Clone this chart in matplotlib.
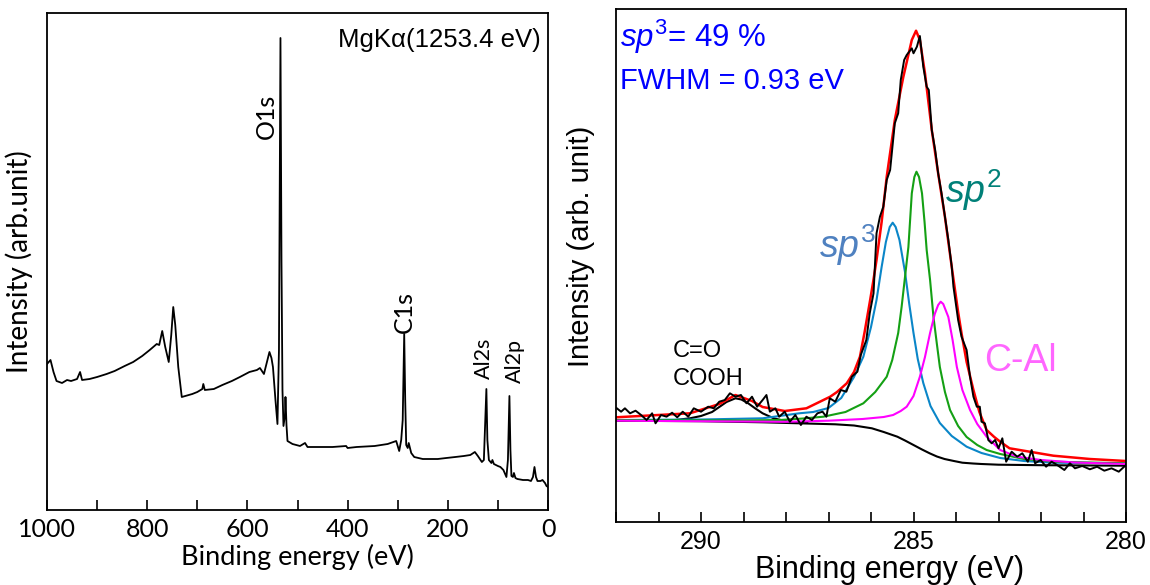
import numpy as np
import matplotlib
matplotlib.use('Agg')
import matplotlib.pyplot as plt

plt.rcParams['mathtext.fontset'] = 'custom'
plt.rcParams['mathtext.rm'] = 'Liberation Sans'
plt.rcParams['mathtext.it'] = 'Liberation Sans:italic'

# ---------------- survey spectrum (left) ----------------
survey_E = [1000, 993, 987, 981, 970, 960, 952, 940, 934, 930, 915, 900, 881, 865, 845,
            828, 810, 795, 781, 776, 770, 764, 757, 752, 748, 744, 738, 731, 724, 710,
            700, 690, 688, 685, 667, 650, 631, 615, 596, 581, 575, 567, 562, 556, 552,
            549, 544, 540, 537, 534, 532, 530, 528, 525, 524, 522, 520, 510, 495, 485,
            480, 453, 430, 403, 400, 382, 346, 320, 303, 297, 293, 290, 287, 285, 283,
            280, 278, 273, 267, 250, 239, 220, 203, 185, 168, 155, 146, 140, 132, 128,
            123, 121, 118, 113, 111, 108, 100, 95, 89, 83, 80, 77, 75, 73, 70,
            68, 65, 61, 50, 40, 34, 30, 27, 24, 21, 15, 11, 6, 3, 0]
survey_I = [146, 150, 138, 129, 127, 130, 129, 131, 138, 130, 131, 133, 136, 139, 144,
            148, 154, 160, 166, 165, 179, 163, 148, 175, 203, 185, 143, 113, 114, 116,
            118, 121, 126, 120, 121, 125, 129, 133, 138, 140, 142, 136, 146, 158, 152,
            143, 110, 86, 160, 472, 250, 120, 84, 95, 113, 85, 69, 66, 64, 67,
            63, 63, 63, 64, 62, 63, 64, 66, 69, 59, 70, 90, 176, 110, 65,
            62, 67, 57, 53, 51, 51, 51, 52, 53, 54, 55, 58, 54, 48, 50,
            121, 70, 50, 47, 50, 46, 44, 43, 40, 33, 50, 114, 60, 34, 33,
            37, 32, 31, 30, 30, 29, 33, 43, 33, 29, 29, 30, 27, 24, 23]

survey_ticks = [1000, 800, 600, 400, 200, 0]

# ---------------- C1s high resolution (right) ----------------
data_E = [291.98, 291.88, 291.79, 291.67, 291.54, 291.41, 291.28, 291.15, 291.07, 290.94,
          290.81, 290.68, 290.56, 290.43, 290.30, 290.17, 290.00, 289.83, 289.70, 289.57,
          289.44, 289.32, 289.19, 289.06, 288.93, 288.80, 288.68, 288.55, 288.46, 288.38,
          288.25, 288.16, 288.03, 287.91, 287.78, 287.65, 287.52, 287.39, 287.26, 287.14,
          287.05, 286.97, 286.84, 286.71, 286.58, 286.45, 286.32, 286.24, 286.11, 286.03,
          285.94, 285.87, 285.79, 285.71, 285.63, 285.55, 285.44, 285.36, 285.30, 285.22,
          285.16, 285.04, 285.00, 284.92, 284.85, 284.77, 284.69, 284.64, 284.57, 284.49,
          284.42, 284.34, 284.26, 284.18, 284.10, 284.06, 283.95, 283.87, 283.75, 283.67,
          283.59, 283.51, 283.44, 283.40, 283.32, 283.24, 283.16, 283.08, 283.00, 282.91,
          282.82, 282.69, 282.56, 282.44, 282.31, 282.22, 282.14, 282.01, 281.88, 281.75,
          281.62, 281.45, 281.32, 281.20, 281.03, 280.85, 280.68, 280.51, 280.34, 280.17,
          280.00]
data_I = [113.7, 110.3, 113.7, 108.7, 111.3, 107.0, 102.0, 108.7, 98.7, 107.0,
          105.3, 109.3, 104.7, 110.3, 105.3, 113.7, 110.3, 115.3, 113.7, 120.3,
          122.0, 128.7, 125.3, 127.0, 118.7, 125.3, 115.3, 122.0, 127.0, 110.3,
          113.7, 105.3, 110.3, 100.3, 107.0, 97.0, 105.3, 102.0, 108.7, 110.3,
          105.3, 123.7, 120.3, 132.0, 130.3, 145.3, 150.3, 167.0, 182.0, 208.7,
          228.7, 288.7, 305.3, 315.3, 342.0, 352.0, 398.7, 408.7, 442.0, 462.0,
          467.0, 473.7, 468.7, 475.3, 486.0, 455.3, 435.3, 432.0, 392.0, 372.0,
          348.7, 328.7, 305.3, 282.0, 255.3, 235.3, 202.0, 185.3, 172.0, 145.3,
          125.3, 115.3, 115.3, 100.3, 98.7, 82.0, 78.7, 82.0, 73.7, 83.7,
          60.3, 70.3, 65.3, 68.7, 60.3, 72.0, 58.7, 62.0, 55.3, 60.3,
          57.0, 52.0, 58.7, 53.7, 56.0, 52.7, 55.3, 51.3, 53.7, 50.3,
          57.0]

env_E = [292.0, 290.26, 289.57, 289.19, 288.80, 288.55, 288.03, 287.52, 287.36, 286.96,
         286.8, 286.57, 286.4, 286.26, 286.15, 286.02, 285.95, 285.87, 285.75, 285.63,
         285.44, 285.24, 285.04, 284.94, 284.85, 284.73, 284.57, 284.42, 284.26, 284.10,
         283.95, 283.87, 283.75, 283.59, 283.45, 283.28, 283.1, 282.96, 282.74, 281.71,
         280.85, 280.0]
env_I = [104.7, 108.7, 118.0, 127.0, 121.0, 115.0, 111.0, 113.7, 117.0, 125.3,
         130.0, 138.7, 150.0, 165.3, 190.0, 222.0, 240.0, 262.0, 300.0, 345.3,
         402.0, 445.0, 482.0, 491.3, 482.0, 448.7, 392.0, 348.7, 305.0, 255.0,
         210.0, 188.7, 160.0, 132.0, 110.0, 92.0, 85.0, 80.3, 73.7, 66.3,
         63.0, 61.0]

base_E = [292.0, 290.0, 288.55, 286.84, 286.4, 285.98, 285.7, 285.38, 285.2, 285.0,
          284.8, 284.62, 284.45, 284.27, 284.05, 283.85, 283.6, 283.4, 283.0, 282.0,
          280.0]
base_I = [101.3, 100.8, 99.7, 97.7, 96.5, 93.7, 90.0, 85.3, 81.5, 77.0,
          72.5, 68.7, 65.5, 63.0, 61.0, 59.3, 58.5, 58.0, 57.3, 56.8,
          56.3]

cooh_E = [292.0, 290.6, 290.26, 290.0, 289.74, 289.40, 289.19, 289.05, 288.89, 288.72,
          288.55, 288.29, 287.95, 287.5]
cooh_I = [101.3, 102.0, 103.7, 106.0, 110.0, 120.0, 123.7, 122.5, 118.7, 113.5,
          108.7, 103.7, 100.3, 99.2]

sp3_E = [292.0, 290.0, 288.55, 287.69, 287.36, 287.0, 286.7, 286.4, 286.18, 286.0,
         285.87, 285.75, 285.65, 285.56, 285.49, 285.42, 285.33, 285.2, 285.1, 285.0,
         284.9, 284.77, 284.6, 284.38, 284.1, 283.75, 283.4, 282.96, 282.4, 281.71,
         280.0]
sp3_I = [102.0, 102.5, 103.7, 108.7, 110.0, 114.0, 124.0, 145.0, 165.3, 195.0,
         222.0, 255.0, 280.0, 295.0, 299.3, 295.0, 282.0, 250.0, 218.0, 189.0,
         163.0, 139.0, 116.0, 99.0, 86.0, 75.3, 69.0, 64.0, 61.0, 59.3,
         58.7]

sp2_E = [292.0, 289.0, 288.14, 287.6, 287.12, 286.6, 286.18, 285.9, 285.63, 285.5,
         285.36, 285.28, 285.2, 285.12, 285.04, 284.98, 284.93, 284.87, 284.80, 284.74,
         284.69, 284.61, 284.53, 284.45, 284.38, 284.26, 284.14, 283.95, 283.75, 283.5,
         283.28, 282.96, 282.4, 281.71, 280.0]
sp2_I = [101.8, 101.5, 102.0, 103.5, 105.3, 110.0, 118.7, 130.0, 145.3, 162.0,
         189.0, 215.0, 245.0, 275.0, 328.7, 345.0, 350.3, 345.0, 328.7, 300.0,
         272.0, 242.0, 205.0, 178.0, 155.0, 130.0, 112.0, 96.0, 85.0, 77.0,
         72.0, 68.0, 63.0, 60.3, 58.7]

cal_E = [292.0, 288.0, 287.0, 286.2, 285.7, 285.48, 285.3, 285.16, 285.0, 284.85,
         284.73, 284.61, 284.5, 284.42, 284.36, 284.30, 284.18, 284.08, 283.98, 283.85,
         283.67, 283.5, 283.28, 282.96, 282.56, 282.0, 281.2, 280.0]
cal_I = [101.3, 100.2, 101.3, 103.0, 105.0, 107.0, 111.0, 115.3, 126.0, 145.3,
         165.0, 189.0, 208.0, 217.0, 220.3, 218.0, 205.0, 182.0, 155.0, 132.0,
         112.0, 98.0, 85.3, 72.0, 65.3, 62.0, 59.5, 58.0]

fig = plt.figure(figsize=(11.5, 5.85), dpi=100)

# left panel
ax1 = fig.add_axes([47/1150, 75/585, 501/1150, 497/585])
ax1.plot(survey_E, survey_I, color='black', lw=1.3)
ax1.set_xlim(1000, 0)
ax1.set_ylim(0, 497)
ax1.set_yticks([])
ax1.set_xticks(survey_ticks)
ax1.set_xticks(np.arange(0, 1001, 100), minor=True)
ax1.tick_params(axis='x', which='both', direction='in', length=7, width=1.2,
                top=False, labelsize=18, pad=6)
for lab in ax1.get_xticklabels():
    lab.set_family('Lato')
for sp in ax1.spines.values():
    sp.set_linewidth(1.3)
ax1.set_xlabel('Binding energy (eV)', family='Lato', fontsize=19.5, labelpad=2)
ax1.set_ylabel('Intensity (arb.unit)', family='Lato', fontsize=20, labelpad=10)
ax1.text(0.986, 0.946, 'MgK\u03b1(1253.4 eV)', transform=ax1.transAxes,
         ha='right', va='center', family='Liberation Sans', fontsize=18.5)
ax1.text(563, 394, 'O1s', rotation=90, ha='center', va='center', family='Lato', fontsize=18)
ax1.text(287, 198, 'C1s', rotation=90, ha='center', va='center', family='Lato', fontsize=18)
ax1.text(127, 152, 'Al2s', rotation=90, ha='center', va='center', family='Lato', fontsize=15.5)
ax1.text(66, 149, 'Al2p', rotation=90, ha='center', va='center', family='Lato', fontsize=15.5)

# right panel
ax2 = fig.add_axes([616/1150, 63/585, 510/1150, 513/585])
ax2.plot(base_E, base_I, color='black', lw=1.5)
ax2.plot(cooh_E, cooh_I, color='black', lw=1.5)
ax2.plot(sp3_E, sp3_I, color='#0a86c8', lw=1.5)
ax2.plot(sp2_E, sp2_I, color='#14a014', lw=1.5)
ax2.plot(cal_E, cal_I, color='#ff00ff', lw=1.5)
ax2.plot(env_E, env_I, color='#ff0000', lw=1.8)
ax2.plot(data_E, data_I, color='black', lw=1.4)
ax2.set_xlim(292, 280)
ax2.set_ylim(0, 513)
ax2.set_yticks([])
ax2.set_xticks([290, 285, 280])
ax2.set_xticks(np.arange(280, 293, 1), minor=True)
ax2.tick_params(axis='x', which='both', direction='in', length=7, width=1.2,
                top=False, labelsize=18, pad=6)
for lab in ax2.get_xticklabels():
    lab.set_family('Liberation Sans')
for sp in ax2.spines.values():
    sp.set_linewidth(1.3)
ax2.set_xlabel('Binding energy (eV)', family='Liberation Sans', fontsize=22, labelpad=0)
ax2.xaxis.set_label_coords(0.537, -0.065)
ax2.set_ylabel('Intensity (arb. unit)', family='Liberation Sans', fontsize=21, labelpad=8)
ax2.yaxis.set_label_coords(-0.042, 0.538)

ax2.text(0.008, 0.945, r'$sp^3$= 49 %', transform=ax2.transAxes, ha='left', va='center',
         color='#0000ff', family='Liberation Sans', fontsize=22.5)
ax2.text(0.008, 0.860, 'FWHM = 0.93 eV', transform=ax2.transAxes, ha='left', va='center',
         color='#0000ff', family='Liberation Sans', fontsize=21)
ax2.text(286.56, 277, r'$sp^3$', ha='center', va='center', color='#4f81c0',
         family='Liberation Sans', fontsize=27)
ax2.text(283.6, 332, r'$sp^2$', ha='center', va='center', color='#008078',
         family='Liberation Sans', fontsize=27)
ax2.text(282.49, 161, 'C-Al', ha='center', va='center', color='#ff66ff',
         family='Liberation Sans', fontsize=27)
ax2.text(290.66, 171, 'C=O', ha='left', va='center', color='black',
         family='Liberation Sans', fontsize=17)
ax2.text(290.66, 143, 'COOH', ha='left', va='center', color='black',
         family='Liberation Sans', fontsize=17)

fig.savefig('out.png', dpi=100)
